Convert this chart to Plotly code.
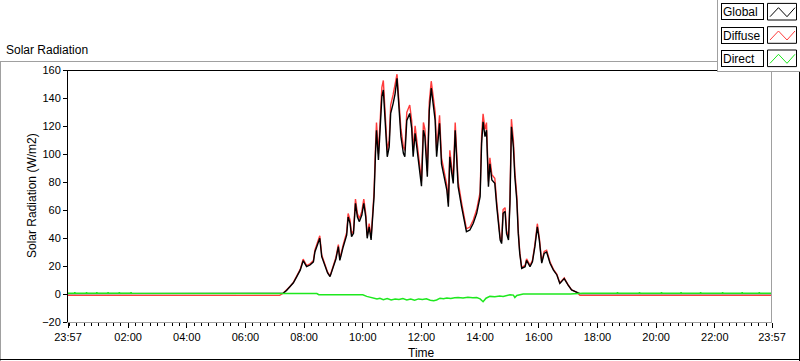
import plotly.graph_objects as go

# ---------------- data ----------------
series_names = ["Global", "Diffuse", "Direct"]
series_colors = ["#000000", "#ff3b3b", "#1ee81e"]

global_times = [
    "23:57", "07:10", "07:17", "07:24", "07:31", "07:38", "07:45", "07:52", "07:58", "08:05",
    "08:12", "08:19", "08:22", "08:29", "08:32", "08:36", "08:43", "08:48", "08:53", "09:00",
    "09:05", "09:10", "09:13", "09:20", "09:27", "09:30", "09:34", "09:37", "09:41", "09:45",
    "09:49", "09:53", "09:58", "10:02", "10:06", "10:09", "10:13", "10:17", "10:20", "10:23",
    "10:26", "10:28", "10:32", "10:35", "10:39", "10:42", "10:45", "10:50", "10:54", "10:57",
    "11:02", "11:06", "11:10", "11:14", "11:18", "11:23", "11:26", "11:30", "11:36", "11:40",
    "11:43", "11:47", "11:50", "11:55", "12:00", "12:04", "12:07", "12:12", "12:16", "12:20",
    "12:24", "12:28", "12:31", "12:34", "12:37", "12:41", "12:48", "12:52", "12:55", "12:58",
    "13:02", "13:05", "13:09", "13:12", "13:15", "13:22", "13:29", "13:32", "13:39", "13:46",
    "13:53", "14:00", "14:03", "14:06", "14:10", "14:13", "14:17", "14:20", "14:24", "14:30",
    "14:34", "14:37", "14:41", "14:44", "14:47", "14:51", "14:54", "14:58", "15:01", "15:04",
    "15:08", "15:11", "15:15", "15:18", "15:21", "15:25", "15:32", "15:35", "15:42", "15:47",
    "15:52", "15:57", "16:01", "16:06", "16:11", "16:16", "16:23", "16:30", "16:37", "16:43",
    "16:52", "17:00", "17:07", "17:18", "17:24", "23:57",
]

global_vals = [
    0.3, 0.3, 0.5, 2.5, 5.2, 8.0, 12.4, 17.0, 23.8, 19.5,
    20.7, 23.0, 30.0, 37.4, 39.8, 26.7, 19.5, 15.0, 12.4, 19.5,
    25.0, 33.8, 24.0, 33.8, 42.0, 55.0, 50.5, 41.0, 43.3, 64.8,
    55.0, 51.7, 56.4, 64.8, 55.0, 39.8, 48.0, 38.6, 52.9, 69.5,
    100.5, 117.0, 95.7, 114.8, 141.0, 145.7, 129.0, 98.0, 105.0, 129.0,
    136.0, 143.0, 154.0, 131.0, 112.4, 100.5, 98.0, 124.0, 129.0, 118.3,
    98.0, 114.8, 105.0, 88.6, 77.0, 117.0, 112.4, 83.8, 131.0, 147.0,
    133.8, 124.0, 98.0, 112.0, 122.0, 93.0, 79.0, 74.0, 62.4, 98.0,
    86.0, 79.0, 117.0, 93.0, 76.7, 62.4, 48.0, 44.5, 45.7, 50.5,
    57.6, 69.5, 107.6, 123.0, 112.4, 117.0, 76.7, 93.0, 81.4, 79.0,
    62.4, 50.5, 38.6, 36.0, 57.6, 59.0, 43.3, 38.6, 64.8, 119.5,
    105.0, 83.8, 67.0, 43.3, 29.0, 18.3, 19.5, 24.0, 19.5, 23.0,
    33.8, 48.0, 38.6, 22.0, 29.0, 30.0, 22.0, 17.0, 13.6, 7.6,
    11.0, 6.4, 2.9, 1.2, 0.3, 0.3,
]

diffuse_vals = [
    -1.0, -1.0, 0.5, 2.6, 5.4, 8.3, 12.9, 17.6, 24.9, 20.3,
    21.5, 24.0, 31.3, 39.0, 41.6, 27.8, 20.3, 15.6, 12.9, 20.3,
    26.1, 35.3, 25.0, 35.3, 43.9, 57.5, 52.8, 42.8, 45.2, 67.8,
    57.5, 54.0, 59.0, 67.8, 57.5, 41.6, 50.2, 40.3, 55.3, 72.7,
    105.2, 122.5, 100.2, 120.2, 147.6, 152.5, 135.0, 102.6, 109.9, 135.0,
    142.4, 149.7, 157.0, 137.1, 117.7, 105.2, 102.6, 129.8, 135.0, 123.8,
    102.6, 120.2, 109.9, 92.7, 80.6, 122.5, 117.7, 87.7, 137.1, 152.0,
    140.0, 129.8, 102.6, 117.2, 127.7, 97.3, 82.7, 77.4, 65.3, 102.6,
    90.0, 82.7, 122.5, 97.3, 80.3, 65.3, 50.2, 46.6, 47.8, 52.8,
    60.3, 72.7, 112.6, 128.7, 117.6, 122.4, 80.3, 97.3, 85.2, 82.7,
    65.3, 52.8, 40.3, 37.7, 60.3, 61.7, 45.3, 40.3, 67.8, 124.9,
    109.8, 87.7, 70.1, 45.3, 30.3, 19.1, 20.4, 25.1, 20.4, 24.0,
    35.3, 50.2, 40.3, 22.9, 30.3, 31.3, 22.9, 17.6, 14.1, 7.9,
    11.4, 6.6, 3.0, 1.2, -1.0, -1.0,
]

direct_times = [
    "23:57", "00:10", "00:11", "00:12", "00:34", "00:35", "00:36", "00:55", "00:56", "00:57",
    "01:18", "01:19", "01:20", "01:41", "01:42", "01:43", "02:05", "02:06", "02:07", "07:15",
    "08:26", "08:30", "10:00", "10:08", "10:20", "10:29", "10:35", "10:42", "10:50", "10:58",
    "11:06", "11:14", "11:22", "11:30", "11:38", "11:46", "11:54", "12:02", "12:10", "12:18",
    "12:25", "12:31", "12:38", "12:45", "12:52", "13:00", "13:08", "13:15", "13:25", "13:35",
    "13:45", "13:53", "14:00", "14:06", "14:12", "14:20", "14:30", "14:40", "14:47", "14:55",
    "15:01", "15:08", "15:11", "15:15", "15:22", "15:28", "17:04", "17:30", "18:40", "18:41",
    "18:42", "19:25", "19:26", "19:27", "20:10", "20:11", "20:12", "20:50", "20:51", "20:52",
    "21:30", "21:31", "21:32", "22:15", "22:16", "22:17", "22:55", "22:56", "22:57", "23:30",
    "23:31", "23:32", "23:57",
]

direct_vals = [
    0.5, 0.5, 1.3, 0.5, 0.5, 1.2, 0.5, 0.5, 1.3, 0.5,
    0.5, 1.2, 0.5, 0.5, 1.3, 0.5, 0.5, 1.2, 0.5, 0.5,
    0.3, -0.5, -0.5, -1.7, -2.5, -3.5, -3.0, -4.0, -3.2, -4.2,
    -3.5, -4.0, -3.3, -4.2, -3.6, -4.4, -3.5, -4.0, -3.4, -4.5,
    -4.8, -4.3, -3.0, -3.4, -2.8, -3.2, -2.7, -2.5, -2.9, -2.3,
    -2.7, -2.5, -3.5, -5.5, -3.0, -1.7, -2.0, -1.5, -1.7, -1.0,
    -0.5, -0.8, -2.5, -1.0, -0.4, 0.0, 0.0, 0.5, 0.5, 1.3,
    0.5, 0.5, 1.2, 0.5, 0.5, 1.3, 0.5, 0.5, 1.2, 0.5,
    0.5, 1.3, 0.5, 0.5, 1.2, 0.5, 0.5, 1.3, 0.5, 0.5,
    1.2, 0.5, 0.5,
]

x_tick_text = ["23:57", "02:00", "04:00", "06:00", "08:00", "10:00", "12:00",
               "14:00", "16:00", "18:00", "20:00", "22:00", "23:57"]
y_ticks = [-20, 0, 20, 40, 60, 80, 100, 120, 140, 160]

DAY0, DAY1 = "2024-01-01", "2024-01-02"


def stamp(times):
    """First '23:57' belongs to the previous day, everything else to DAY1."""
    return [f"{DAY0 if (i == 0 and t == '23:57') else DAY1} {t}" for i, t in enumerate(times)]


# ---------------- figure ----------------
W, H = 800, 361
L, R, T, B = 68, 28, 70, 39
PW, PH = W - L - R, H - T - B


def px(x):
    return (x - L) / PW


def py(y):
    return (H - B - y) / PH


FONT = "Liberation Sans, Arial, sans-serif"

fig = go.Figure()
# draw order: Diffuse, Global, Direct (green on top)
fig.add_trace(go.Scatter(x=stamp(global_times), y=diffuse_vals, name=series_names[1],
                         mode="lines", line=dict(color=series_colors[1], width=1.4),
                         showlegend=False))
fig.add_trace(go.Scatter(x=stamp(global_times), y=global_vals, name=series_names[0],
                         mode="lines", line=dict(color=series_colors[0], width=1.4),
                         showlegend=False))
fig.add_trace(go.Scatter(x=stamp(direct_times), y=direct_vals, name=series_names[2],
                         mode="lines", line=dict(color=series_colors[2], width=1.5),
                         showlegend=False))

fig.update_layout(
    width=W, height=H,
    margin=dict(l=L, r=R, t=T, b=B, pad=0),
    paper_bgcolor="white", plot_bgcolor="white",
    font=dict(family=FONT, size=11, color="#000000"),
    showlegend=False,
)

fig.update_xaxes(
    type="date",
    range=[f"{DAY0} 23:57", f"{DAY1} 23:57"],
    tickmode="array",
    tickvals=stamp(x_tick_text),
    ticktext=x_tick_text,
    ticks="outside", ticklen=5, tickcolor="#000000", tickwidth=1,
    showgrid=False, zeroline=False,
    showline=True, linecolor="#a0a0a0", linewidth=1,
    tickfont=dict(size=11),
    minor=dict(ticks="outside", ticklen=3, tickcolor="#000000",
               dtick=15 * 60 * 1000, tick0=f"{DAY1} 00:00", showgrid=False),
)
fig.update_yaxes(
    range=[-20, 160],
    tickmode="array", tickvals=y_ticks,
    ticks="outside", ticklen=4, tickcolor="#000000", tickwidth=1,
    showgrid=False, zeroline=False,
    showline=True, linecolor="#000000", linewidth=1,
    tickfont=dict(size=11),
)

GREY = "#a0a0a0"
shapes = []


def line(x0, y0, x1, y1, color, width=1):
    shapes.append(dict(type="line", xref="paper", yref="paper",
                       x0=px(x0), y0=py(y0), x1=px(x1), y1=py(y1),
                       line=dict(color=color, width=width), layer="above"))


# plot frame
line(68, 70.5, 772, 70.5, "#000000")
line(771.5, 70, 771.5, 322, GREY)
# outer panel
line(0, 61.5, 717, 61.5, GREY)
line(0.5, 61, 0.5, 361, GREY)
line(0, 359.5, 800, 359.5, "#000000")
line(799.5, 72, 799.5, 361, "#000000")
# legend panel
shapes.append(dict(type="rect", xref="paper", yref="paper",
                   x0=px(717), y0=py(0), x1=px(800), y1=py(72),
                   fillcolor="white", line=dict(width=0), layer="above"))
line(717.5, 0, 717.5, 72, GREY)
line(717, 71.5, 800, 71.5, GREY)

annotations = []
row_centers = [11.7, 35.0, 58.3]
for name, color, yc in zip(series_names, series_colors, row_centers):
    annotations.append(dict(
        text=name, xref="paper", yref="paper", x=px(720.5), y=py(yc),
        xanchor="left", yanchor="middle", showarrow=False, align="left",
        width=39, height=13, borderpad=1, borderwidth=1, bordercolor="#000000",
        bgcolor="white", font=dict(family=FONT, size=12, color="#000000")))
    # icon box
    shapes.append(dict(type="rect", xref="paper", yref="paper",
                       x0=px(767.5), y0=py(yc - 8.3), x1=px(796.5), y1=py(yc + 8.3),
                       fillcolor="white", line=dict(color="#000000", width=1), layer="above"))
    zx = [770, 778.5, 787, 795]
    zy = [yc + 5, yc - 4, yc + 5, yc - 4]
    path = "M " + " L ".join(f"{px(a):.5f},{py(b):.5f}" for a, b in zip(zx, zy))
    shapes.append(dict(type="path", xref="paper", yref="paper", path=path,
                       line=dict(color=color, width=1), layer="above"))

# chart title, axis titles
annotations.append(dict(text="Solar Radiation", xref="paper", yref="paper",
                        x=px(4), y=py(50), xanchor="left", yanchor="middle",
                        showarrow=False, font=dict(family=FONT, size=12, color="#000000")))
annotations.append(dict(text="Solar Radiation (W/m2)", xref="paper", yref="paper",
                        x=px(32), y=py(196), xanchor="center", yanchor="middle",
                        textangle=-90, showarrow=False,
                        font=dict(family=FONT, size=12, color="#000000")))
annotations.append(dict(text="Time", xref="paper", yref="paper",
                        x=px(421), y=py(353), xanchor="center", yanchor="middle",
                        showarrow=False, font=dict(family=FONT, size=12, color="#000000")))

fig.update_layout(shapes=shapes, annotations=annotations)
fig.write_html(
    "out.html",
    config={"displayModeBar": False},
    post_script="document.body.style.margin='0';document.body.style.overflow='hidden';",
)
